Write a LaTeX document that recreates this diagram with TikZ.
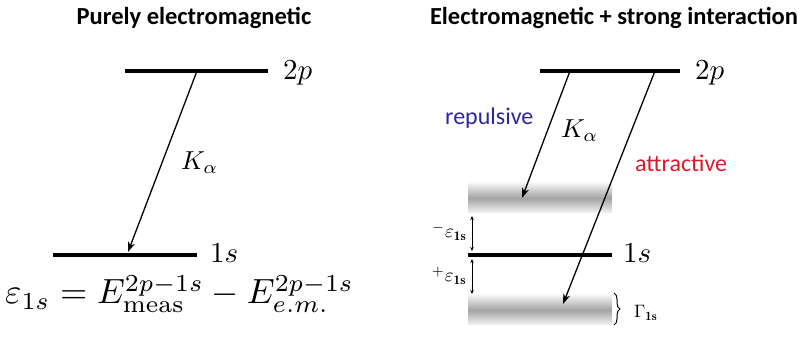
\documentclass[tikz,border=0pt]{standalone}
\usepackage{fontspec}
\newfontfamily\carl{Carlito}
\usetikzlibrary{arrows.meta,decorations.pathreplacing}
\definecolor{repblue}{RGB}{40,40,165}
\definecolor{attred}{RGB}{225,25,45}
\newcommand\mysc[2]{\scalebox{#1}{$#2$}}
\begin{document}
\begin{tikzpicture}[x=1pt,y=-1pt,
  title/.style={font=\carl\bfseries\fontsize{24.5}{28}\selectfont, inner sep=0pt},
  lvl/.style={line width=3.8pt},
  trans/.style={line width=1.3pt,-{Stealth[length=10pt,width=7pt,inset=3pt]}},
  lab/.style={inner sep=0pt, anchor=base west},
  word/.style={font=\carl\fontsize{24}{28}\selectfont, inner sep=0pt, anchor=base west},
  band/.style={top color=gray!8, bottom color=gray!8, middle color=gray!72},
  dbl/.style={line width=0.7pt,{Stealth[length=4pt,width=3.5pt]}-{Stealth[length=4pt,width=3.5pt]}}
]
\useasboundingbox (0,0) rectangle (809,347);
% titles
\node[title] (t1) at (194,18) {Purely electromagnetic};
\node[title] (t2) at (614,18) {Electromagnetic + strong interaction};
% left panel
\coordinate (L2a) at (125,71); \coordinate (L2b) at (268,71);
\coordinate (L1a) at (53,255); \coordinate (L1b) at (197,255);
\draw[lvl] (L2a) -- (L2b);
\draw[lvl] (L1a) -- (L1b);
\node[lab] (l2p) at (283,80) {\mysc{2.9}{2p}};
\node[lab] (l1s) at (210,263) {\mysc{2.9}{1s}};
\coordinate (Ls) at (197,71); \coordinate (Le) at (128,252);
\draw[trans] (Ls) -- (Le);
\node[lab] (lK) at (181,170) {\mysc{2.6}{K_\alpha}};
\node[lab] (eq) at (5,304) {\mysc{3.5}{\varepsilon_{1s} = E^{2p-1s}_{\mathrm{meas}} - E^{2p-1s}_{e.m.}}};
% right panel
\shade[band] (468,183) rectangle (612,213);
\shade[band] (468,295) rectangle (612,325);
\coordinate (R2a) at (540,71); \coordinate (R2b) at (680,71);
\coordinate (R1a) at (468,255); \coordinate (R1b) at (612,255);
\draw[lvl] (R2a) -- (R2b);
\draw[lvl] (R1a) -- (R1b);
\node[lab] (r2p) at (695,80) {\mysc{2.9}{2p}};
\node[lab] (r1s) at (623,263) {\mysc{2.9}{1s}};
\coordinate (Ra) at (570,71); \coordinate (Rb) at (522,198);
\coordinate (Rc) at (655,71); \coordinate (Rd) at (563,304);
\draw[trans] (Ra) -- (Rb);
\draw[trans] (Rc) -- (Rd);
\node[lab] (rK) at (561,138) {\mysc{2.6}{K_\alpha}};
\node[word, text=repblue] (rep) at (445,125) {repulsive};
\node[word, text=attred] (att) at (635,172) {attractive};
\coordinate (d1) at (472,216); \coordinate (d2) at (472,251);
\coordinate (d3) at (472,259); \coordinate (d4) at (472,294);
\draw[dbl] (d1) -- (d2);
\draw[dbl] (d3) -- (d4);
\node[lab] (me) at (432,238) {\mysc{1.9}{^{-}\varepsilon_{\mathbf{1s}}}};
\node[lab] (pe) at (432,282) {\mysc{1.9}{^{+}\varepsilon_{\mathbf{1s}}}};
\coordinate (b1) at (614,293); \coordinate (b2) at (614,325);
\draw[line width=1pt, decorate, decoration={brace, amplitude=6pt}] (b1) -- (b2);
\node[lab] (gam) at (634,318) {\mysc{1.8}{\Gamma_{\mathbf{1s}}}};
\end{tikzpicture}
\end{document}
